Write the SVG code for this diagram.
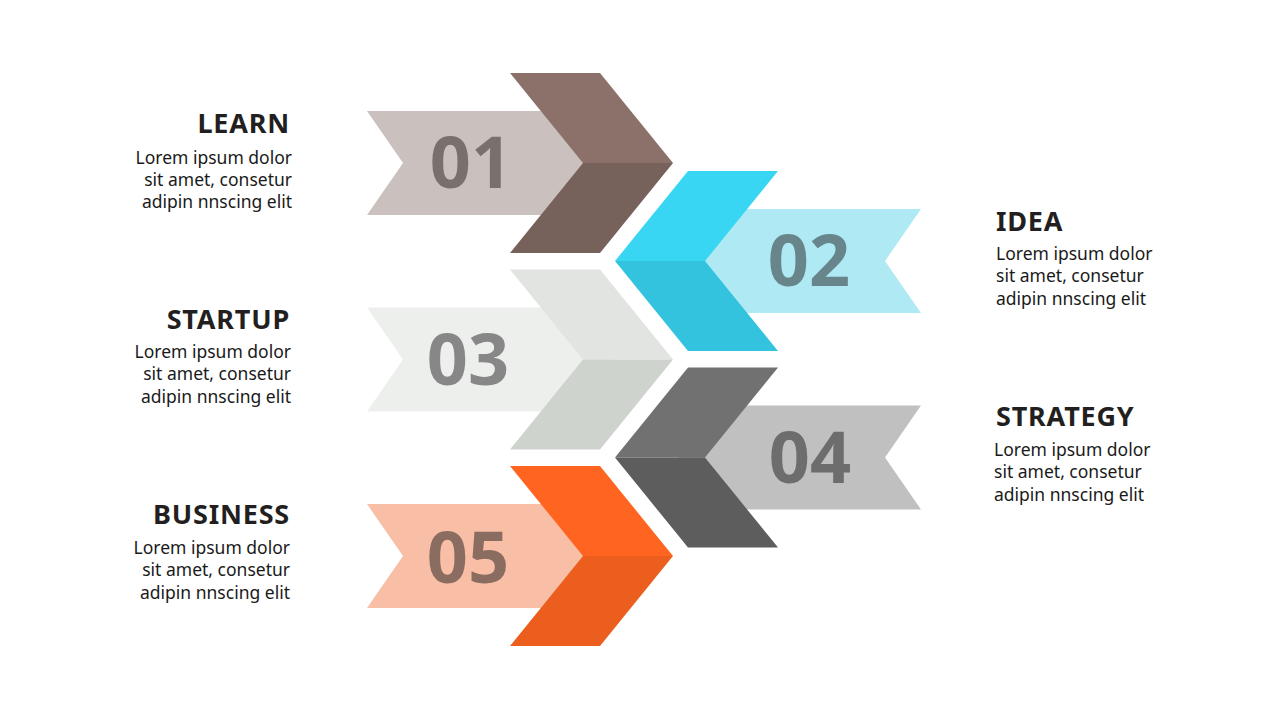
<svg xmlns="http://www.w3.org/2000/svg" width="1280" height="720" viewBox="0 0 1280 720">
<style>
.num{font-family:"Noto Sans","Open Sans",sans-serif;font-weight:700;font-size:72px;text-anchor:middle}
.title{font-family:"Noto Sans","Open Sans",sans-serif;font-weight:700;font-size:27px;fill:#231F20;letter-spacing:0.8px}
.body{font-family:"Noto Sans","Open Sans",sans-serif;font-size:17.5px;fill:#1A1A1A}
.r{text-anchor:end}
</style>
<defs>
<polygon id="ribR" points="367,-52 610,-52 610,52 367,52 403,0"/>
<polygon id="chRu" points="510,-90 600,-90 673,0 583,0"/>
<polygon id="chRl" points="583,0 673,0 600,90 510,90"/>
<polygon id="ribL" points="921,-52 678,-52 678,52 921,52 885,0"/>
<polygon id="chLu" points="778,-90 688,-90 615,0 705,0"/>
<polygon id="chLl" points="705,0 615,0 688,90 778,90"/>
</defs>
<rect width="1280" height="720" fill="#FFFFFF"/>
<g id="connectors"></g>
<g id="node1">
<g transform="translate(0,163)">
<use href="#ribR" fill="#CAC1BF"/>
<use href="#chRu" fill="#8C716A"/>
<use href="#chRl" fill="#77625B"/>
</g>
<text class="num" x="471" y="188" fill="#77706C">01</text>
<text class="title r" x="290" y="133">LEARN</text>
<text class="body r" x="292" y="164">Lorem ipsum dolor</text>
<text class="body r" x="292" y="186">sit amet, consetur</text>
<text class="body r" x="292" y="208">adipin nnscing elit</text>
</g>
<g id="node2">
<g transform="translate(0,261)">
<use href="#ribL" fill="#AEE9F4"/>
<use href="#chLu" fill="#38D6F2"/>
<use href="#chLl" fill="#33C3DF"/>
</g>
<text class="num" x="809" y="286" fill="#67858A">02</text>
<text class="title" x="996" y="231">IDEA</text>
<text class="body" x="996" y="260">Lorem ipsum dolor</text>
<text class="body" x="996" y="282">sit amet, consetur</text>
<text class="body" x="996" y="305">adipin nnscing elit</text>
</g>
<g id="node3">
<g transform="translate(0,359.5)">
<use href="#ribR" fill="#EDEFED"/>
<use href="#chRu" fill="#E1E4E0"/>
<use href="#chRl" fill="#CFD3CE"/>
</g>
<text class="num" x="468" y="385" fill="#878787">03</text>
<text class="title r" x="290" y="329">STARTUP</text>
<text class="body r" x="291" y="358">Lorem ipsum dolor</text>
<text class="body r" x="291" y="380">sit amet, consetur</text>
<text class="body r" x="291" y="403">adipin nnscing elit</text>
</g>
<g id="node4">
<g transform="translate(0,457.5)">
<use href="#ribL" fill="#C0C0C0"/>
<use href="#chLu" fill="#717171"/>
<use href="#chLl" fill="#5D5D5D"/>
</g>
<text class="num" x="810" y="483" fill="#6D6D6D">04</text>
<text class="title" x="996" y="426">STRATEGY</text>
<text class="body" x="994" y="456">Lorem ipsum dolor</text>
<text class="body" x="994" y="478">sit amet, consetur</text>
<text class="body" x="994" y="501">adipin nnscing elit</text>
</g>
<g id="node5">
<g transform="translate(0,556)">
<use href="#ribR" fill="#F8BFA6"/>
<use href="#chRu" fill="#FF6520"/>
<use href="#chRl" fill="#EB5E1E"/>
</g>
<text class="num" x="468" y="583" fill="#8A6C60">05</text>
<text class="title r" x="290" y="524">BUSINESS</text>
<text class="body r" x="290" y="554">Lorem ipsum dolor</text>
<text class="body r" x="290" y="576">sit amet, consetur</text>
<text class="body r" x="290" y="599">adipin nnscing elit</text>
</g>
</svg>
